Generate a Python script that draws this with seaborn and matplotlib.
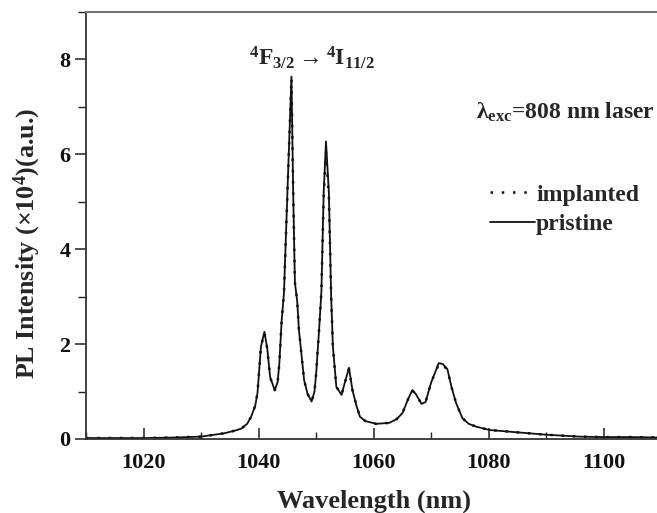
import numpy as np
import pandas as pd
import matplotlib
matplotlib.use("Agg")
import matplotlib.pyplot as plt
from matplotlib.ticker import MultipleLocator
from matplotlib.lines import Line2D
import seaborn as sns

# Nd3+ 4F3/2 -> 4I11/2 emission spectrum (intensity in units of 1e4 a.u.)
wavelength = [1010, 1015, 1020, 1025, 1030, 1034, 1036, 1037, 1038, 1038.7,
              1039.4, 1039.8, 1040.4, 1041.0, 1041.5, 1042.0, 1042.8, 1043.3,
              1043.6, 1044.0, 1044.4, 1045.0, 1045.7, 1046.0, 1046.3, 1046.7,
              1047.0, 1047.9, 1048.5, 1049.2, 1049.7, 1050.0, 1050.5, 1050.9,
              1051.3, 1051.7, 1052.2, 1052.6, 1052.9, 1053.5, 1054.4, 1055.0,
              1055.7, 1056.3, 1057.0, 1057.6, 1058.5, 1060.4, 1062.7, 1064.0,
              1065.0, 1066.0, 1066.7, 1067.3, 1068.3, 1069.0, 1070.0, 1071.3,
              1072.0, 1072.8, 1073.5, 1074.3, 1075.4, 1076.5, 1077.8, 1080.1,
              1084.0, 1087.0, 1090.0, 1095.7, 1100.0, 1105.0, 1110.0]

pristine = [0.02, 0.02, 0.02, 0.03, 0.05, 0.12, 0.18, 0.22, 0.32, 0.47,
            0.70, 0.97, 1.95, 2.26, 1.90, 1.30, 1.03, 1.20,
            1.60, 2.50, 3.08, 5.20, 7.64, 5.20, 3.30, 2.90,
            2.30, 1.24, 0.95, 0.79, 1.00, 1.39, 2.30, 3.10,
            5.20, 6.27, 5.20, 3.00, 1.95, 1.10, 0.93, 1.20,
            1.50, 1.03, 0.70, 0.47, 0.38, 0.32, 0.34, 0.42,
            0.55, 0.85, 1.03, 0.95, 0.74, 0.78, 1.20, 1.60,
            1.58, 1.47, 1.10, 0.76, 0.44, 0.32, 0.26, 0.19,
            0.15, 0.12, 0.09, 0.05, 0.04, 0.04, 0.03]

implanted = [0.02, 0.02, 0.02, 0.03, 0.05, 0.12, 0.18, 0.22, 0.32, 0.47,
             0.70, 0.97, 1.95, 2.24, 1.90, 1.30, 1.03, 1.20,
             1.60, 2.50, 3.08, 5.20, 7.60, 5.20, 3.30, 2.90,
             2.30, 1.24, 0.95, 0.79, 1.00, 1.39, 2.30, 3.10,
             5.10, 6.05, 5.10, 3.00, 1.95, 1.10, 0.93, 1.20,
             1.48, 1.03, 0.70, 0.47, 0.38, 0.32, 0.34, 0.42,
             0.55, 0.85, 1.02, 0.95, 0.74, 0.78, 1.20, 1.58,
             1.56, 1.46, 1.10, 0.76, 0.44, 0.32, 0.26, 0.19,
             0.15, 0.12, 0.09, 0.05, 0.04, 0.04, 0.03]

x_ticks = [1020, 1040, 1060, 1080, 1100]
y_ticks = [0, 2, 4, 6, 8]

sns.set_theme(style="ticks")
plt.rcParams["font.family"] = ["Liberation Serif", "DejaVu Serif"]
plt.rcParams["font.weight"] = "bold"
plt.rcParams["mathtext.fontset"] = "custom"
plt.rcParams["mathtext.rm"] = "Liberation Serif:bold"
plt.rcParams["mathtext.bf"] = "Liberation Serif:bold"
plt.rcParams["mathtext.it"] = "Liberation Serif:bold"

df = pd.DataFrame({
    "wavelength": wavelength * 2,
    "intensity": implanted + pristine,
    "sample": ["implanted"] * len(wavelength) + ["pristine"] * len(wavelength),
})

dotted = (0, (1, 3.5))

fig = plt.figure(figsize=(6.57, 5.13), dpi=100)
ax = fig.add_axes([86 / 657, 74 / 513, 575.5 / 657, 427 / 513])

sns.lineplot(data=df[df["sample"] == "pristine"], x="wavelength", y="intensity",
             color="#111111", linewidth=1.3, ax=ax, legend=False)
sns.lineplot(data=df[df["sample"] == "implanted"], x="wavelength", y="intensity",
             color="#111111", linewidth=1.8, linestyle=dotted, ax=ax,
             legend=False)

ax.set_xlim(1010, 1110)
ax.set_ylim(0, 9)
ax.set_xticks(x_ticks)
ax.set_yticks(y_ticks)
ax.xaxis.set_minor_locator(MultipleLocator(10))
ax.yaxis.set_minor_locator(MultipleLocator(1))
ax.tick_params(axis="x", which="major", direction="in", length=8, width=1.1,
               labelsize=16, pad=10, colors="#222222")
ax.tick_params(axis="x", which="minor", direction="in", length=5, width=1.0,
               colors="#222222")
ax.tick_params(axis="y", which="major", direction="out", length=8, width=1.1,
               labelsize=16, pad=3, colors="#222222")
ax.tick_params(axis="y", which="minor", direction="out", length=6, width=1.0,
               colors="#222222")
for lbl in ax.get_xticklabels() + ax.get_yticklabels():
    lbl.set_fontweight("bold")
    lbl.set_color("#111111")

for side in ["left", "bottom"]:
    ax.spines[side].set_color("#333333")
    ax.spines[side].set_linewidth(1.3)
ax.spines["top"].set_color("#777777")
ax.spines["top"].set_linewidth(1.5)
ax.spines["right"].set_visible(False)

ax.set_xlabel("Wavelength (nm)", fontsize=19, fontweight="bold", labelpad=12)
ax.set_ylabel(r"PL Intensity (×10$^{\mathbf{4}}$)(a.u.)", fontsize=18.7,
              fontweight="bold")
ax.yaxis.set_label_coords(-0.074, 0.457)

ax.text(1049.2, 8.03, r"$\mathbf{{}^{4}F_{3/2}\rightarrow{}^{4}I_{11/2}}$",
        fontsize=17, ha="center", va="center")
ax.text(0.989, 0.766, r"λ$_{\mathbf{exc}}$=808 nm laser", transform=ax.transAxes,
        fontsize=17, fontweight="bold", ha="right", va="center")

handles = [
    Line2D([], [], color="#111111", linewidth=1.8, linestyle=dotted),
    Line2D([], [], color="#111111", linewidth=1.3),
]
ax.legend(handles, ["implanted", "pristine"], loc="upper left",
          bbox_to_anchor=(0.702, 0.597), frameon=False, fontsize=17,
          handlelength=1.9, handletextpad=0.05, labelspacing=0.35,
          borderaxespad=0, borderpad=0)

fig.savefig("out.png", dpi=100)
